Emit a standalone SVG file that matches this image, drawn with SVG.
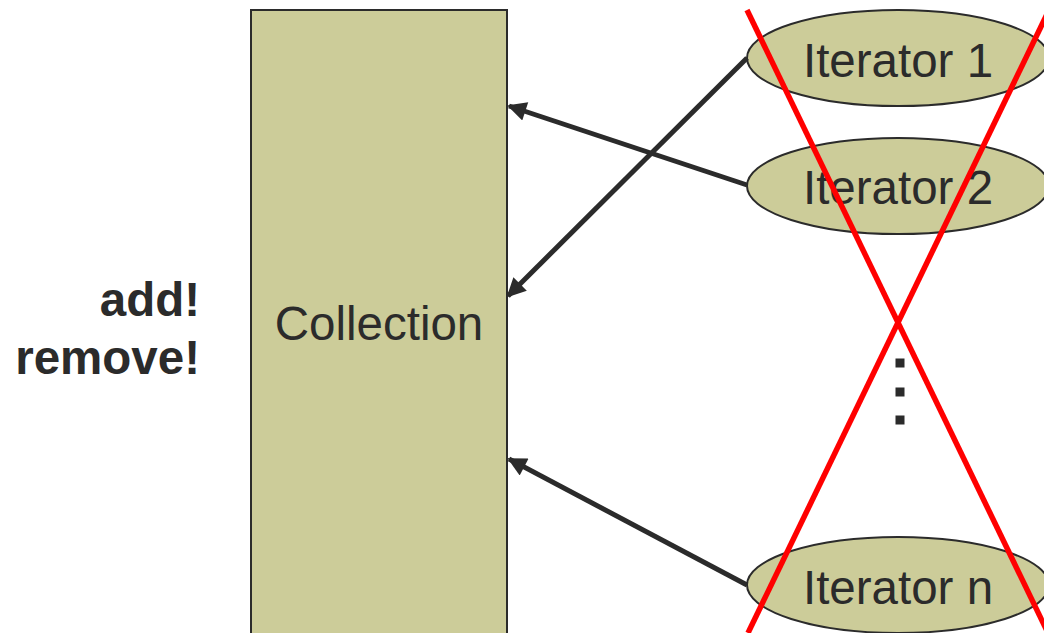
<svg xmlns="http://www.w3.org/2000/svg" width="1044" height="633" viewBox="0 0 1044 633">
<style>
.node{fill:#cccc99;stroke:#2b2b2b;stroke-width:2}
.lbl{font-family:"Liberation Sans",Arial,sans-serif;font-size:47.5px;fill:#2b2b2b}
.side{font-family:"Liberation Sans",Arial,sans-serif;font-size:47.5px;font-weight:bold;fill:#2b2b2b}
.conn{stroke:#2b2b2b;stroke-width:5;fill:none}
.cross{stroke:#ff0000;stroke-width:5.5}
</style>
<defs>
<marker id="ah" viewBox="0 0 10 10" refX="9" refY="5" markerWidth="4.4" markerHeight="3.8" orient="auto" markerUnits="strokeWidth">
<path d="M0,0 L10,5 L0,10 z" fill="#2b2b2b"/>
</marker>
</defs>
<rect width="1044" height="633" fill="#ffffff"/>
<g id="side-text">
<text class="side" x="200" y="316" text-anchor="end">add!</text>
<text class="side" x="200" y="374" text-anchor="end">remove!</text>
</g>
<g id="collection">
<rect class="node" x="251" y="10" width="256" height="640"/>
<text class="lbl" x="379" y="340" text-anchor="middle">Collection</text>
</g>
<g id="iterator1">
<ellipse class="node" cx="898" cy="58" rx="151" ry="48"/>
<text class="lbl" x="898" y="77" text-anchor="middle">Iterator 1</text>
</g>
<g id="iterator2">
<ellipse class="node" cx="898" cy="186" rx="151" ry="48"/>
<text class="lbl" x="898" y="204" text-anchor="middle">Iterator 2</text>
</g>
<g id="iteratorn">
<ellipse class="node" cx="898" cy="585" rx="151" ry="48"/>
<text class="lbl" x="898" y="604" text-anchor="middle">Iterator n</text>
</g>
<g id="ellipsis" fill="#2b2b2b">
<rect x="895.5" y="358.5" width="9" height="9"/>
<rect x="895.5" y="387.5" width="9" height="9"/>
<rect x="895.5" y="415.5" width="9" height="9"/>
</g>
<g id="connectors">
<line class="conn" x1="747" y1="185" x2="509" y2="106" marker-end="url(#ah)"/>
<line class="conn" x1="747" y1="58" x2="508" y2="296" marker-end="url(#ah)"/>
<line class="conn" x1="747" y1="585" x2="509" y2="459" marker-end="url(#ah)"/>
</g>
<g id="cross">
<line class="cross" x1="747" y1="10" x2="1048" y2="633"/>
<line class="cross" x1="1049" y1="10" x2="748" y2="633"/>
</g>
</svg>
